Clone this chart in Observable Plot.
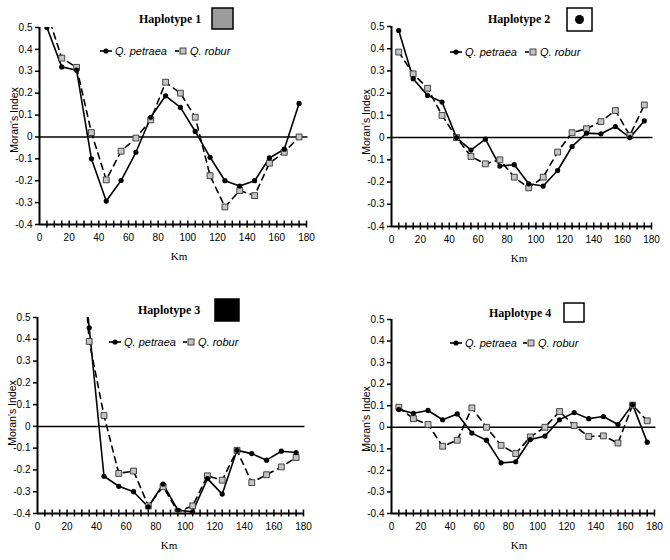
<!DOCTYPE html>
<html>
<head>
<meta charset="utf-8">
<script src="https://cdn.jsdelivr.net/npm/d3@7"></script>
<script src="https://cdn.jsdelivr.net/npm/@observablehq/plot@0.6"></script>
<style>
  body { margin: 0; background: #fff; }
  #wrap { position: relative; width: 670px; height: 560px; background: #fff; overflow: hidden; }
  #wrap svg { position: absolute; }
</style>
</head>
<body>
<div id="wrap"></div>
<script>
// ---- data ----
const km = [5, 15, 25, 35, 45, 55, 65, 75, 85, 95, 105, 115, 125, 135, 145, 155, 165, 175];
const xTicks = [0, 20, 40, 60, 80, 100, 120, 140, 160, 180];
const xMinorTicks = [5, 10, 15, 20, 25, 30, 35, 40, 45, 50, 55, 60, 65, 70, 75, 80, 85, 90, 95, 100, 105, 110, 115, 120, 125, 130, 135, 140, 145, 150, 155, 160, 165, 170, 175, 180];
const yTicks = [-0.4, -0.3, -0.2, -0.1, 0, 0.1, 0.2, 0.3, 0.4, 0.5];
const seriesNames = ["Q. petraea", "Q. robur"];
const panelTitles = ["Haplotype 1", "Haplotype 2", "Haplotype 3", "Haplotype 4"];

const h1Petraea = [0.50, 0.32, 0.305, -0.10, -0.293, -0.199, -0.07, 0.09, 0.188, 0.135, 0.025, -0.093, -0.20, -0.224, -0.20, -0.096, -0.056, 0.153];
const h1Robur   = [0.57, 0.36, 0.318, 0.02, -0.196, -0.065, -0.005, 0.078, 0.25, 0.20, 0.09, -0.177, -0.32, -0.245, -0.268, -0.12, -0.07, 0.0];

const h2Petraea = [0.482, 0.265, 0.19, 0.16, 0.0, -0.056, -0.007, -0.128, -0.122, -0.208, -0.218, -0.148, -0.04, 0.02, 0.017, 0.05, 0.0, 0.075];
const h2Robur   = [0.385, 0.287, 0.222, 0.10, 0.0, -0.085, -0.118, -0.10, -0.178, -0.226, -0.178, -0.065, 0.022, 0.04, 0.072, 0.122, 0.01, 0.147];

const h3Petraea = [null, null, 1.12, 0.453, -0.229, -0.275, -0.30, -0.37, -0.265, -0.385, -0.392, -0.24, -0.311, -0.11, -0.125, -0.155, -0.114, -0.12];
const h3Robur   = [null, null, 1.31, 0.39, 0.05, -0.216, -0.205, -0.365, -0.277, -0.392, -0.365, -0.227, -0.247, -0.11, -0.258, -0.222, -0.186, -0.143];

const h4Petraea = [0.082, 0.065, 0.078, 0.035, 0.062, -0.027, -0.06, -0.165, -0.16, -0.057, -0.041, 0.035, 0.068, 0.04, 0.05, 0.013, 0.105, -0.069];
const h4Robur   = [0.093, 0.04, 0.013, -0.088, -0.06, 0.09, 0.0, -0.084, -0.122, -0.045, 0.0, 0.073, 0.008, -0.043, -0.04, -0.073, 0.103, 0.03];

// ---- layout of the four panels ----
const panels = [
  {name: panelTitles[0], petraea: h1Petraea, robur: h1Robur, left: 0, top: 0,
   ml: 39, mr: 29, mt: 27, mb: 56, title: [139, 23], swatch: {x: 212, y: 8, w: 21, h: 21, type: "gray"},
   legY: 51, legP: 100, legR: 175, ylab: [14, 120], klab: [179, 260]},
  {name: panelTitles[1], petraea: h2Petraea, robur: h2Robur, left: 335, top: 0,
   ml: 56, mr: 19, mt: 26, mb: 54, title: [153, 23], swatch: {x: 232, y: 8, w: 25, h: 23, type: "dot"},
   legY: 52, legP: 115, legR: 190, ylab: [31, 122], klab: [184, 262]},
  {name: panelTitles[2], petraea: h3Petraea, robur: h3Robur, left: 0, top: 280,
   ml: 37, mr: 32, mt: 37, mb: 47, title: [138, 34], swatch: {x: 215, y: 19, w: 24, h: 22, type: "black"},
   legY: 62, legP: 109, legR: 183, ylab: [12, 133], klab: [169, 269]},
  {name: panelTitles[3], petraea: h4Petraea, robur: h4Robur, left: 335, top: 280,
   ml: 56, mr: 16, mt: 39, mb: 47, title: [154, 37], swatch: {x: 229, y: 23, w: 20, h: 19, type: "white"},
   legY: 63, legP: 115, legR: 188, ylab: [31, 139], klab: [184, 269]}
];

const fmtY = d => Math.abs(d) < 1e-9 ? "0" : d.toFixed(1);
const SANS = "'Liberation Sans', Arial, Helvetica, sans-serif";
const SERIF = "'Liberation Serif', 'Times New Roman', Times, serif";
const wrap = document.getElementById("wrap");

function drawPanel(cfg) {
  const rowsP = km.map((k, i) => ({km: k, v: cfg.petraea[i]})).filter(d => d.v != null);
  const rowsR = km.map((k, i) => ({km: k, v: cfg.robur[i]})).filter(d => d.v != null);
  const yMin = yTicks[0], yMax = yTicks[yTicks.length - 1];
  const svg = Plot.plot({
    width: 335, height: 280,
    marginLeft: cfg.ml, marginRight: cfg.mr, marginTop: cfg.mt, marginBottom: cfg.mb,
    style: {fontFamily: SANS, fontSize: "10px", color: "#000", background: "transparent"},
    x: {domain: [0, 180]},
    y: {domain: [yMin, yMax]},
    marks: [
      Plot.axisY({ticks: yTicks, tickFormat: fmtY, tickSize: 4, tickPadding: 3, label: null, strokeWidth: 1.5}),
      Plot.axisX({ticks: xTicks, tickSize: 0, tickPadding: 9, label: null}),
      Plot.ruleX(xMinorTicks, {x: d => d, y1: yMin - 0.016, y2: yMin + 0.016, stroke: "#000", strokeWidth: 1.5}),
      Plot.ruleX([0], {y1: yMin, y2: yMax, stroke: "#000", strokeWidth: 2}),
      Plot.ruleY([yMin], {x1: 0, x2: 180, stroke: "#000", strokeWidth: 2}),
      Plot.ruleY([0], {x1: 0, x2: 181, stroke: "#000", strokeWidth: 1.5}),
      Plot.line(rowsR, {x: "km", y: "v", stroke: "#000", strokeWidth: 1.6, strokeDasharray: "6,5", clip: true}),
      Plot.line(rowsP, {x: "km", y: "v", stroke: "#000", strokeWidth: 1.6, clip: true}),
      Plot.dot(rowsR, {x: "km", y: "v", symbol: "square", r: 3.3, fill: "#c4c4c4", stroke: "#333", strokeWidth: 0.9, clip: true}),
      Plot.dot(rowsP, {x: "km", y: "v", r: 2.6, fill: "#000", stroke: "none", clip: true})
    ]
  });
  svg.style.left = cfg.left + "px";
  svg.style.top = cfg.top + "px";
  const g = d3.select(svg).append("g").attr("class", "decor").attr("text-anchor", "start");

  // title
  g.append("text").attr("x", cfg.title[0]).attr("y", cfg.title[1]).attr("text-anchor", "start")
    .attr("font-family", SERIF).attr("font-weight", "bold").attr("font-size", 12).attr("fill", "#000")
    .text(cfg.name);
  // swatch
  const s = cfg.swatch;
  g.append("rect").attr("x", s.x).attr("y", s.y).attr("width", s.w).attr("height", s.h)
    .attr("fill", s.type === "gray" ? "#9c9c9c" : s.type === "black" ? "#000" : "#fff")
    .attr("stroke", "#000").attr("stroke-width", 1.5);
  if (s.type === "dot") {
    g.append("circle").attr("cx", s.x + s.w / 2).attr("cy", s.y + s.h / 2).attr("r", 4.5).attr("fill", "#000");
  }
  // legend
  const ly = cfg.legY;
  g.append("line").attr("x1", cfg.legP).attr("x2", cfg.legP + 12).attr("y1", ly).attr("y2", ly)
    .attr("stroke", "#000").attr("stroke-width", 1.6);
  g.append("circle").attr("cx", cfg.legP + 6).attr("cy", ly).attr("r", 2.6).attr("fill", "#000");
  g.append("text").attr("x", cfg.legP + 15).attr("y", ly + 4).attr("text-anchor", "start")
    .attr("font-family", SANS).attr("font-style", "italic").attr("font-size", 11).attr("fill", "#000")
    .text(seriesNames[0]);
  g.append("line").attr("x1", cfg.legR).attr("x2", cfg.legR + 4).attr("y1", ly).attr("y2", ly)
    .attr("stroke", "#000").attr("stroke-width", 1.6);
  g.append("rect").attr("x", cfg.legR + 5).attr("y", ly - 3).attr("width", 6).attr("height", 6)
    .attr("fill", "#c4c4c4").attr("stroke", "#333").attr("stroke-width", 0.9);
  g.append("text").attr("x", cfg.legR + 15).attr("y", ly + 4).attr("text-anchor", "start")
    .attr("font-family", SANS).attr("font-style", "italic").attr("font-size", 11).attr("fill", "#000")
    .text(seriesNames[1]);
  // axis labels
  g.append("text").attr("transform", `translate(${cfg.ylab[0]},${cfg.ylab[1]}) rotate(-90)`)
    .attr("text-anchor", "middle").attr("dy", "0.35em")
    .attr("font-family", SANS).attr("font-size", 10.5).attr("fill", "#000")
    .text("Moran's Index");
  g.append("text").attr("x", cfg.klab[0]).attr("y", cfg.klab[1]).attr("text-anchor", "middle")
    .attr("font-family", SERIF).attr("font-size", 11).attr("fill", "#000")
    .text("Km");
  wrap.appendChild(svg);
}

panels.forEach(drawPanel);
</script>
</body>
</html>
